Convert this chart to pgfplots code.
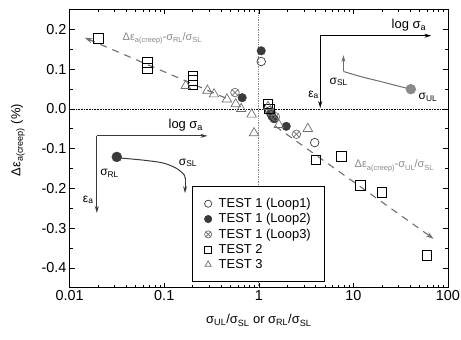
\documentclass[border=0pt]{standalone}
\usepackage{fontspec}
\setmainfont{Liberation Sans}
\usepackage{pgfplots}
\pgfplotsset{compat=1.18}
\usetikzlibrary{arrows.meta}
\definecolor{dgray}{HTML}{3A3A3A}
\definecolor{mgray}{HTML}{6E6E6E}
\definecolor{lgray}{HTML}{8A8A8A}
\newcommand{\gs}[1]{\raisebox{-2.5bp}{\fontsize{7.5bp}{8bp}\selectfont #1}}
\begin{document}
\begin{tikzpicture}
\begin{axis}[
  scale only axis, width=380bp, height=279.5bp,
  xmode=log, xmin=0.01, xmax=100, ymin=-0.45, ymax=0.25,
  xtick={0.01,0.1,1,10,100}, xticklabels={0.01,0.1,1,10,100},
  minor xtick={0.02,0.03,0.04,0.05,0.06,0.07,0.08,0.09,0.2,0.3,0.4,0.5,0.6,0.7,0.8,0.9,2,3,4,5,6,7,8,9,20,30,40,50,60,70,80,90},
  ytick={-0.4,-0.3,-0.2,-0.1,0,0.1,0.2}, yticklabels={-0.4,-0.3,-0.2,-0.1,0.0,0.1,0.2},
  minor ytick={-0.35,-0.25,-0.15,-0.05,0.05,0.15},
  tick align=inside,
  major tick length=5bp, minor tick length=3bp,
  tick style={black, line width=0.6bp},
  axis line style={line width=0.9bp},
  tick label style={font=\fontsize{14.5bp}{16bp}\selectfont},
  yticklabel style={inner sep=1bp, xshift=-2bp},
  xticklabel style={inner sep=1bp, yshift=-2bp},
  label style={font=\fontsize{13bp}{15bp}\selectfont},
  xlabel={σ\textsubscript{UL}/σ\textsubscript{SL} or σ\textsubscript{RL}/σ\textsubscript{SL}},
  ylabel={Δε\textsubscript{a(creep)} (\%)},
  xlabel style={at={(axis description cs:0.5,-0.117)}, anchor=center},
  ylabel style={at={(axis description cs:-0.137,0.53)}, anchor=center},
  legend style={at={(0.324,0.02)}, anchor=south west, draw=black, line width=0.8bp, fill=white,
    font=\fontsize{13bp}{15bp}\selectfont, inner xsep=12bp, inner ysep=10bp, row sep=0.5bp,
    /tikz/every odd column/.append style={column sep=5bp}},
  legend image post style={mark size=3.6bp},
  legend cell align=left,
  clip=false,
]
% bounding box matching reference margins
\path (axis description cs:-0.1842,-0.186) rectangle (axis description cs:1.0289,1.034);
% reference lines
\addplot[forget plot, densely dotted, lgray, line width=0.7bp] coordinates {(1,-0.45)(1,0.25)};
\addplot[forget plot, densely dotted, black, line width=0.6bp] coordinates {(0.01,0)(100,0)};
% dashed trend lines
\addplot[forget plot, mgray, line width=1.1bp, dash pattern=on 7bp off 6bp, -{Stealth[length=8bp,width=5bp]}] coordinates {(0.447,0.027)(0.0144,0.179)};
\addplot[forget plot, mgray, line width=1.1bp, dash pattern=on 7bp off 6bp, -{Stealth[length=8bp,width=5bp]}] coordinates {(1.5,-0.044)(70.6,-0.327)};
\node[lgray, font=\fontsize{11bp}{13bp}\selectfont] at (axis cs:0.095,0.178) {Δε\gs{a(creep)}-σ\gs{RL}/σ\gs{SL}};
\node[lgray, font=\fontsize{11bp}{13bp}\selectfont] at (axis cs:27,-0.143) {Δε\gs{a(creep)}-σ\gs{UL}/σ\gs{SL}};
% left inset
\addplot[forget plot, dgray, line width=0.9bp, -{Stealth[length=7bp,width=4bp]}] coordinates {(0.01937,-0.068)(0.286,-0.068)};
\addplot[forget plot, dgray, line width=0.9bp, -{Stealth[length=7bp,width=4bp]}] coordinates {(0.01937,-0.068)(0.01937,-0.262)};
\addplot[forget plot, dgray, line width=1bp, smooth] coordinates {(0.0315,-0.123)(0.0592,-0.129)(0.096,-0.136)(0.133,-0.149)(0.1625,-0.166)(0.166,-0.176)};
\addplot[forget plot, dgray, line width=1bp, -{Stealth[length=7bp,width=4bp]}] coordinates {(0.166,-0.175)(0.166,-0.212)};
\addplot[forget plot, only marks, mark=*, mark size=5bp, dgray, fill=dgray] coordinates {(0.0315,-0.121)};
\node[font=\fontsize{13bp}{15bp}\selectfont, anchor=south east] at (axis cs:0.28,-0.066) {log σ\textsubscript{a}};
\node[font=\fontsize{12bp}{14bp}\selectfont] at (axis cs:0.0264,-0.162) {σ\textsubscript{RL}};
\node[font=\fontsize{12bp}{14bp}\selectfont] at (axis cs:0.178,-0.136) {σ\textsubscript{SL}};
\node[font=\fontsize{12bp}{14bp}\selectfont] at (axis cs:0.0157,-0.229) {ε\textsubscript{a}};
% right inset
\addplot[forget plot, black, line width=0.9bp, -{Stealth[length=7bp,width=4bp]}] coordinates {(4.46,0.184)(66.7,0.184)};
\addplot[forget plot, black, line width=0.9bp, -{Stealth[length=7bp,width=4bp]}] coordinates {(4.46,0.184)(4.46,0.002)};
\addplot[forget plot, mgray, line width=1bp, smooth] coordinates {(40.5,0.0495)(30,0.057)(20,0.068)(12,0.081)(7.85,0.094)};
\addplot[forget plot, mgray, line width=1bp, -{Stealth[length=7bp,width=4bp]}] coordinates {(7.85,0.094)(7.85,0.135)};
\addplot[forget plot, only marks, mark=*, mark size=5bp, lgray, fill=lgray] coordinates {(40.5,0.0495)};
\node[font=\fontsize{13bp}{15bp}\selectfont, anchor=south east] at (axis cs:64,0.186) {log σ\textsubscript{a}};
\node[font=\fontsize{12bp}{14bp}\selectfont] at (axis cs:7.0,0.068) {σ\textsubscript{SL}};
\node[font=\fontsize{12bp}{14bp}\selectfont] at (axis cs:61.5,0.028) {σ\textsubscript{UL}};
\node[font=\fontsize{12bp}{14bp}\selectfont] at (axis cs:3.8,0.035) {ε\textsubscript{a}};
% data
\addplot[only marks, mark=o, mark size=4.3bp, dgray, line width=0.7bp] coordinates {(1.06,0.119)(3.9,-0.085)(1.3,-0.005)};
\addlegendentry{TEST 1 (Loop1)}
\addplot[only marks, mark=*, mark size=4.3bp, dgray, fill=dgray] coordinates {(1.06,0.146)(0.667,0.028)(1.33,-0.011)(1.38,-0.019)(1.45,-0.025)(1.95,-0.044)};
\addlegendentry{TEST 1 (Loop2)}
\addplot[only marks, mark=otimes, mark size=4.3bp, mgray, line width=0.7bp] coordinates {(0.56,0.041)(1.35,-0.008)(1.5,-0.02)(2.5,-0.064)};
\addlegendentry{TEST 1 (Loop3)}
\addplot[only marks, mark=square, mark size=4.8bp, black, line width=0.7bp] coordinates {(0.02,0.177)(0.0667,0.117)(0.0667,0.102)(0.2,0.083)(0.2,0.072)(0.2,0.060)(1.25,0.012)(1.3,0.0)(4.0,-0.128)(7.5,-0.12)(11.9,-0.193)(19.9,-0.21)(60,-0.369)};
\addlegendentry{TEST 2}
\addplot[only marks, mark=triangle, mark size=5.5bp, mgray, line width=0.7bp] coordinates {(0.169,0.058)(0.286,0.046)(0.336,0.037)(0.46,0.024)(0.57,0.012)(0.65,0.0)(0.84,-0.014)(0.89,-0.061)(1.25,0.005)(1.63,-0.04)(3.3,-0.05)};
\addlegendentry{TEST 3}
\end{axis}
\end{tikzpicture}
\end{document}
